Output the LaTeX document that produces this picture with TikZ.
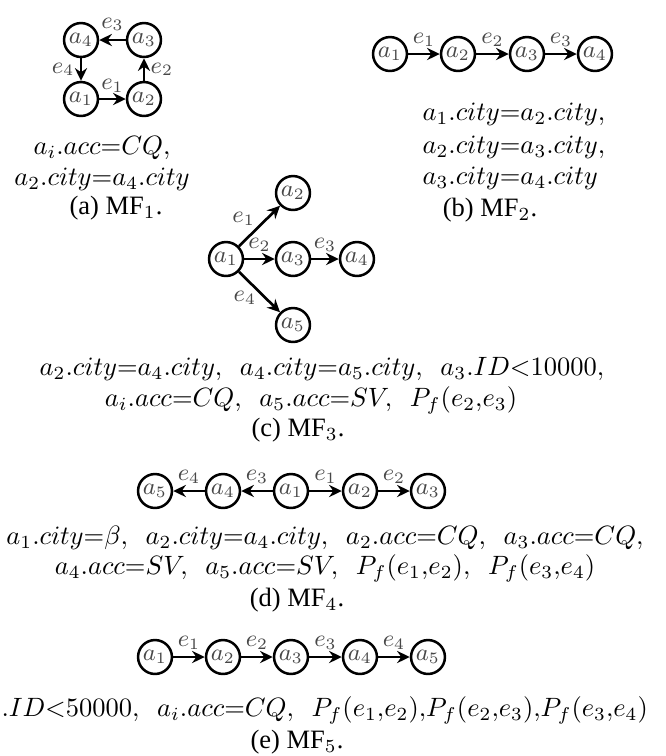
\documentclass[tikz,border=0pt]{standalone}
\usepackage{fontspec}
\setmainfont{Liberation Serif}
\newfontfamily\capfont{Liberation Serif}
\usetikzlibrary{arrows.meta}
\begin{document}
\begin{tikzpicture}[x=0.3774pt,y=-0.3774pt,
  vtx/.style={circle,draw,line width=0.95pt,minimum size=12.8pt,inner sep=0pt,font=\small,text=black!72},
  arr/.style={-{Stealth[length=4.8pt,width=4.6pt,inset=1.6pt]},line width=1pt},
  elab/.style={font=\small,text=black!72,inner sep=0pt},
  txt/.style={inner sep=0pt},
  capt/.style={inner sep=0pt,font=\capfont}]
\useasboundingbox (0,0) rectangle (666,756);
% ---------- (a)
\node[vtx] (A4) at (81,40) {$a_4$};
\node[vtx] (A3) at (144,40) {$a_3$};
\node[vtx] (A1) at (81,99) {$a_1$};
\node[vtx] (A2) at (144,99) {$a_2$};
\draw[arr] (A3) -- node[elab,above=3pt]{$e_3$} (A4);
\draw[arr] (A4) -- node[elab,left=2pt]{$e_4$} (A1);
\draw[arr] (A1) -- node[elab,above=2pt]{$e_1$} (A2);
\draw[arr] (A2) -- node[elab,right=2pt]{$e_2$} (A3);
\node[txt] (ta1) at (102,148) {$a_i.acc{=}CQ,$};
\node[txt] (ta2) at (102,179) {$a_2.city{=}a_4.city$};
\node[capt] (ca) at (116,208) {(a) MF$_1$.};
% ---------- (b)
\node[vtx] (B1) at (390,54) {$a_1$};
\node[vtx] (B2) at (458,54) {$a_2$};
\node[vtx] (B3) at (527,54) {$a_3$};
\node[vtx] (B4) at (595,54) {$a_4$};
\draw[arr] (B1) -- node[elab,above=2.5pt]{$e_1$} (B2);
\draw[arr] (B2) -- node[elab,above=2.5pt]{$e_2$} (B3);
\draw[arr] (B3) -- node[elab,above=2.5pt]{$e_3$} (B4);
\node[txt,anchor=west] (tb1) at (422,114) {$a_1.city{=}a_2.city,$};
\node[txt,anchor=west] (tb2) at (422,147) {$a_2.city{=}a_3.city,$};
\node[txt,anchor=west] (tb3) at (422,178) {$a_3.city{=}a_4.city$};
\node[capt] (cb) at (490,210) {(b) MF$_2$.};
% ---------- (c)
\node[vtx] (C1) at (226,259) {$a_1$};
\node[vtx] (C2) at (293,193) {$a_2$};
\node[vtx] (C3) at (293,259) {$a_3$};
\node[vtx] (C4) at (357,259) {$a_4$};
\node[vtx] (C5) at (293,325) {$a_5$};
\draw[arr] (C1) -- node[elab,above left=0.5pt,pos=0.45]{$e_1$} (C2);
\draw[arr] (C1) -- node[elab,above=2.3pt]{$e_2$} (C3);
\draw[arr] (C3) -- node[elab,above=2.3pt]{$e_3$} (C4);
\draw[arr] (C1) -- node[elab,below left=0pt,pos=0.45]{$e_4$} (C5);
\node[txt] (tc1) at (322,369) {$a_2.city{=}a_4.city,\ \ a_4.city{=}a_5.city,\ \ a_3.ID{<}10000,$};
\node[txt] (tc2) at (311,400) {$a_i.acc{=}CQ,\ \ a_5.acc{=}SV,\ \ P_f(e_2{,}e_3)$};
\node[capt] (cc) at (298,430) {(c) MF$_3$.};
% ---------- (d)
\node[vtx] (D5) at (155,491) {$a_5$};
\node[vtx] (D4) at (223,491) {$a_4$};
\node[vtx] (D1) at (291,491) {$a_1$};
\node[vtx] (D2) at (360,491) {$a_2$};
\node[vtx] (D3) at (428,491) {$a_3$};
\draw[arr] (D4) -- node[elab,above=2.5pt]{$e_4$} (D5);
\draw[arr] (D1) -- node[elab,above=2.5pt]{$e_3$} (D4);
\draw[arr] (D1) -- node[elab,above=2.5pt]{$e_1$} (D2);
\draw[arr] (D2) -- node[elab,above=2.5pt]{$e_2$} (D3);
\node[txt] (td1) at (325,538) {$a_1.city{=}\beta,\ \ a_2.city{=}a_4.city,\ \ a_2.acc{=}CQ,\ \ a_3.acc{=}CQ,$};
\node[txt] (td2) at (325,568) {$a_4.acc{=}SV,\ \ a_5.acc{=}SV,\ \ P_f(e_1{,}e_2),\ \ P_f(e_3{,}e_4)$};
\node[capt] (cd) at (297,600) {(d) MF$_4$.};
% ---------- (e)
\node[vtx] (E1) at (155,657) {$a_1$};
\node[vtx] (E2) at (223,657) {$a_2$};
\node[vtx] (E3) at (291,657) {$a_3$};
\node[vtx] (E4) at (360,657) {$a_4$};
\node[vtx] (E5) at (428,657) {$a_5$};
\draw[arr] (E1) -- node[elab,above=2.5pt]{$e_1$} (E2);
\draw[arr] (E2) -- node[elab,above=2.5pt]{$e_2$} (E3);
\draw[arr] (E3) -- node[elab,above=2.5pt]{$e_3$} (E4);
\draw[arr] (E4) -- node[elab,above=2.5pt]{$e_4$} (E5);
\node[txt,anchor=west] (te1) at (1,710) {$.ID{<}50000,\ \ a_i.acc{=}CQ,\ \ P_f(e_1{,}e_2){,}P_f(e_2{,}e_3){,}P_f(e_3{,}e_4)$};
\node[capt] (ce) at (297,742) {(e) MF$_5$.};
\end{tikzpicture}
\end{document}
